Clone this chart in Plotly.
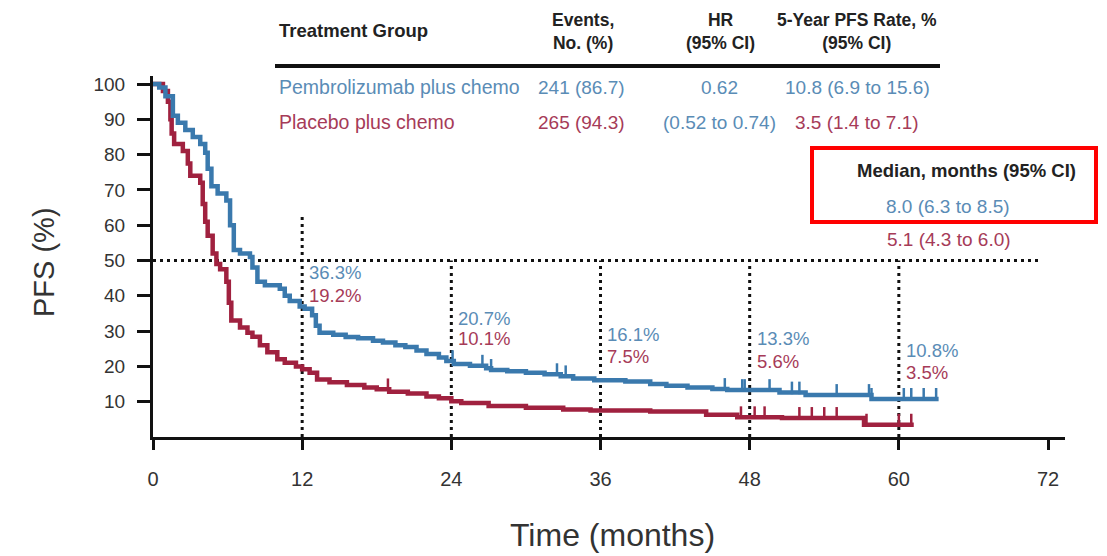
import plotly.graph_objects as go

# ---- Kaplan-Meier step data (time in months, PFS in %) ----
pembro_t = [0, 0.5, 1.0, 1.6, 2.0, 2.6, 3.2, 3.8, 4.2, 4.4, 4.7, 5.2, 5.9, 6.2, 6.5, 7.0, 7.8,
            8.0, 8.4, 9.0, 10.2, 10.6, 11.0, 11.8, 12.2, 12.8, 13.1, 13.4, 14.5, 15.5, 16.5,
            17.7, 18.5, 19.5, 20.3, 21.2, 22.0, 23.0, 23.6, 24.2, 25.5, 26.8, 27.2, 28.5, 30.0,
            31.5, 32.8, 33.8, 35.5, 38.0, 40.0, 41.3, 43.0, 45.0, 46.2, 50.4, 52.5, 57.8, 63.2]
pembro_s = [100, 99, 96.5, 91, 89, 87, 85, 83, 80.5, 76, 71, 69, 67, 60, 53, 52, 51,
            48, 44, 43, 42, 40, 38.5, 37, 36.3, 34.5, 31.5, 29.5, 29, 28.3, 28,
            27.3, 26.8, 26, 25.5, 24.5, 23.5, 22.5, 21.5, 20.7, 20.2, 19.5, 19, 18.6, 18.2,
            17.8, 17.2, 16.6, 16.1, 15.7, 15, 14.5, 14, 13.6, 13.3, 12.6, 11.9, 10.8, 10.8]
pembro_cens = [24.1, 26.5, 27.2, 32.5, 33.2, 46.0, 47.4, 47.6, 49.6, 51.4, 52.0, 55.0,
               57.6, 57.8, 60.4, 61.0, 62.0, 63.0]

placebo_t = [0, 0.8, 1.2, 1.4, 1.5, 1.7, 2.4, 2.8, 3.0, 3.8, 4.0, 4.2, 4.4, 4.8, 5.1, 5.4,
             5.9, 6.1, 6.3, 7.0, 7.6, 8.0, 8.6, 9.2, 10.0, 10.6, 11.5, 12.0, 12.6, 13.2, 14.2,
             15.6, 17.0, 18.0, 19.0, 20.5, 22.0, 23.0, 24.0, 24.8, 27.0, 30.0, 33.0, 35.2,
             40.0, 44.5, 47.0, 50.6, 57.2, 61.2]
placebo_s = [100, 98, 95, 90, 86, 83, 81, 77.5, 74, 72, 66, 61, 57, 52, 49, 47.5,
             44, 38, 33, 31, 29.5, 28.4, 26, 24, 22, 21, 20, 19.2, 18.2, 16.3, 15.5,
             14.7, 14, 13.5, 12.8, 12.3, 11.5, 11, 10.1, 9.6, 8.8, 8.3, 7.8, 7.5,
             7.2, 6.3, 5.6, 5.4, 3.5, 3.5]
placebo_cens = [18.9, 47.3, 48.4, 49.2, 52.0, 53.0, 54.0, 55.0, 57.4, 60.0, 61.0]

# landmark PFS rates
landmark_t = [12, 24, 36, 48, 60]
pembro_rate = [36.3, 20.7, 16.1, 13.3, 10.8]
placebo_rate = [19.2, 10.1, 7.5, 5.6, 3.5]

# summary table
groups = ["Pembrolizumab plus chemo", "Placebo plus chemo"]
events = ["241 (86.7)", "265 (94.3)"]
hr_text = ["0.62", "(0.52 to 0.74)"]
pfs5 = ["10.8 (6.9 to 15.6)", "3.5 (1.4 to 7.1)"]
medians = ["8.0 (6.3 to 8.5)", "5.1 (4.3 to 6.0)"]

x_ticks = [0, 12, 24, 36, 48, 60, 72]
y_ticks = [10, 20, 30, 40, 50, 60, 70, 80, 90, 100]

BLUE = "#3a79ad"
RED = "#a0213f"
BLUE_TXT = "#5a8cb6"
RED_TXT = "#a63b58"
FONT = "Liberation Sans, Arial, sans-serif"

# plot-area geometry (pixels)
L, R, T, B = 153, 1065, 76, 437
W, H = R - L, B - T
X_MAX = 72 * W / (1048 - L)
Y_MAX = 100 * H / (B - 84)


def step_at(ts, ss, t):
    v = ss[0]
    for ti, si in zip(ts, ss):
        if ti <= t:
            v = si
    return v


def px(xp, yp):
    return (xp - L) / W, (B - yp) / H


fig = go.Figure()

# reference lines: median (50%) and landmark times
DOT = dict(color="#111", width=3, dash="3px,4px")
fig.add_trace(go.Scatter(x=[0, 71.5], y=[50, 50], mode="lines", line=DOT,
                         hoverinfo="skip", showlegend=False))
for t in landmark_t:
    top = 62.5 if t == 12 else 50
    fig.add_trace(go.Scatter(x=[t, t], y=[0, top], mode="lines", line=DOT,
                             hoverinfo="skip", showlegend=False))

# survival curves
for ts, ss, cens, col, name in [(placebo_t, placebo_s, placebo_cens, RED, groups[1]),
                                (pembro_t, pembro_s, pembro_cens, BLUE, groups[0])]:
    fig.add_trace(go.Scatter(x=ts, y=ss, mode="lines", line_shape="hv",
                             line=dict(color=col, width=4.5), name=name, showlegend=False))
    fig.add_trace(go.Scatter(x=cens, y=[step_at(ts, ss, c) + 1.3 for c in cens],
                             mode="markers", marker=dict(symbol="line-ns", size=9,
                                                         line=dict(color=col, width=2.5)),
                             hoverinfo="skip", showlegend=False))

ann = []
# landmark labels
pem_y = [46.5, 33.7, 28.9, 27.8, 24.6]
pla_y = [40.2, 27.8, 22.7, 21.5, 18.4]
for t, a, b, ya, yb in zip(landmark_t, pembro_rate, placebo_rate, pem_y, pla_y):
    ann.append(dict(x=t + 0.4, y=ya, xref="x", yref="y", text=f"{a}%", showarrow=False,
                    xanchor="left", yanchor="middle", font=dict(size=18.5, color=BLUE_TXT)))
    ann.append(dict(x=t + 0.4, y=yb, xref="x", yref="y", text=f"{b}%", showarrow=False,
                    xanchor="left", yanchor="middle", font=dict(size=18.5, color=RED_TXT)))


def add_text(xp, yp, text, color, size=17, anchor="center", bold=False):
    x, y = px(xp, yp)
    if bold:
        text = f"<b>{text}</b>"
    ann.append(dict(x=x, y=y, xref="paper", yref="paper", text=text, showarrow=False,
                    xanchor=anchor, yanchor="middle", font=dict(size=size, color=color)))


# table header
add_text(277, 30, "Treatment Group", "#222", 18.5, "left", True)
add_text(583, 31, "Events,<br>No. (%)", "#222", 17.5, "center", True)
add_text(720, 31, "HR<br>(95% CI)", "#222", 17.5, "center", True)
add_text(857, 31, "5-Year PFS Rate, %<br>(95% CI)", "#222", 17.5, "center", True)
# table rows
row_y = [87, 122]
row_col = [BLUE_TXT, RED_TXT]
for i in range(2):
    add_text(277, row_y[i], groups[i], row_col[i], 19.5, "left")
    add_text(581, row_y[i], events[i], row_col[i], 19)
    add_text(719, row_y[i], hr_text[i], BLUE_TXT, 19)
    add_text(857, row_y[i], pfs5[i], row_col[i], 19)

# median box
add_text(966, 170, "Median, months (95% CI)", "#222", 18.5, "center", True)
add_text(948, 206, medians[0], BLUE_TXT, 19)
add_text(949, 239, medians[1], RED_TXT, 19)

# axis titles
add_text(44, 262, "PFS (%)", "#333", 29)
ann[-1]["textangle"] = -90
add_text(612, 535, "Time (months)", "#333", 32)

x0, y0 = px(275, 66)
x1, _ = px(940, 66)
bx0, by0 = px(812, 148)
bx1, by1 = px(1096, 222)
shapes = [
    dict(type="line", xref="paper", yref="paper", x0=x0, x1=x1, y0=y0, y1=y0,
         line=dict(color="#111", width=4)),
    dict(type="rect", xref="paper", yref="paper", x0=bx0, x1=bx1, y0=by0, y1=by1,
         line=dict(color="#ff0000", width=4), fillcolor="rgba(0,0,0,0)"),
]

fig.update_layout(
    width=1107, height=556,
    margin=dict(l=L, r=1107 - R, t=T, b=556 - B),
    paper_bgcolor="white", plot_bgcolor="white",
    font=dict(family=FONT, color="#333"),
    annotations=ann, shapes=shapes, showlegend=False,
    xaxis=dict(range=[0, X_MAX], tickvals=x_ticks, ticktext=[str(v) for v in x_ticks],
               showgrid=False, zeroline=False, showline=True, linecolor="#111", linewidth=3,
               ticks="outside", ticklen=10, tickwidth=2.5, tickcolor="#111",
               tickfont=dict(size=20, color="#333"), ticklabelstandoff=12),
    yaxis=dict(range=[0, Y_MAX], tickvals=y_ticks, showgrid=False, zeroline=False,
               showline=True, linecolor="#111", linewidth=3,
               ticks="outside", ticklen=13, tickwidth=2.5, tickcolor="#111",
               tickfont=dict(size=19, color="#333"), ticklabelstandoff=8),
)

fig.write_html("out.html")
